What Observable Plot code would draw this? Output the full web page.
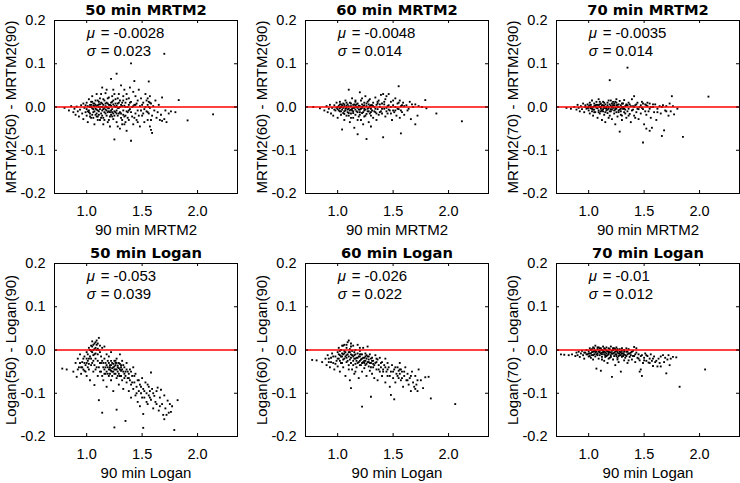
<!DOCTYPE html>
<html><head><meta charset="utf-8">
<script src="https://cdn.jsdelivr.net/npm/d3@7"></script>
<script src="https://cdn.jsdelivr.net/npm/@observablehq/plot@0.6"></script>
<style>
body{margin:0;background:#fff;overflow:hidden}
#chart{position:relative;width:740px;height:483px;overflow:hidden;background:#fff}
#chart svg{position:absolute}
</style></head><body><div id="chart"></div>
<script>
const xTicks = [1.0, 1.5, 2.0];
const yTicks = [-0.2, -0.1, 0, 0.1, 0.2];
const titles = ["50 min MRTM2", "60 min MRTM2", "70 min MRTM2", "50 min Logan", "60 min Logan", "70 min Logan"];
const xLabels = ["90 min MRTM2", "90 min MRTM2", "90 min MRTM2", "90 min Logan", "90 min Logan", "90 min Logan"];
const yLabels = ["MRTM2(50) - MRTM2(90)", "MRTM2(60) - MRTM2(90)", "MRTM2(70) - MRTM2(90)", "Logan(50) - Logan(90)", "Logan(60) - Logan(90)", "Logan(70) - Logan(90)"];
const muText = ["-0.0028", "-0.0048", "-0.0035", "-0.053", "-0.026", "-0.01"];
const sigmaText = ["0.023", "0.014", "0.014", "0.039", "0.022", "0.012"];

const mrtm2_50 = [[0.80,-0.002],[0.84,-0.008],[0.86,0.002],[0.88,-0.012],[0.89,-0.004],[0.90,-0.018],[0.91,0.001],[0.92,-0.010],[0.93,-0.022],[0.94,-0.006],[0.95,0.004],[0.96,-0.015],[0.97,-0.028],[0.97,0.008],[0.98,-0.002],[0.99,-0.012],[1.00,0.010],[1.00,-0.020],[1.01,0.002],[1.01,-0.035],[1.02,-0.008],[1.02,0.018],[1.03,-0.015],[1.03,0.005],[1.04,-0.025],[1.04,0.012],[1.05,-0.003],[1.05,0.025],[1.06,-0.012],[1.06,0.008],[1.07,-0.040],[1.07,0.002],[1.08,0.015],[1.08,-0.018],[1.09,-0.006],[1.09,0.030],[1.10,0.004],[1.10,-0.022],[1.11,0.012],[1.11,-0.010],[1.12,-0.030],[1.12,0.020],[1.13,0.000],[1.13,-0.015],[1.14,0.008],[1.14,0.045],[1.15,-0.005],[1.15,-0.025],[1.16,0.015],[1.16,-0.012],[1.17,0.002],[1.17,0.032],[1.18,-0.020],[1.18,0.010],[1.19,-0.035],[1.19,-0.002],[1.20,0.022],[1.20,-0.010],[1.21,0.005],[1.21,-0.045],[1.22,0.065],[1.22,-0.018],[1.23,0.012],[1.23,-0.005],[1.24,0.040],[1.24,-0.028],[1.25,0.002],[1.25,-0.075],[1.26,0.018],[1.26,-0.012],[1.27,0.077],[1.27,-0.035],[1.28,0.008],[1.28,-0.020],[1.29,0.030],[1.29,-0.002],[1.30,-0.050],[1.30,0.015],[1.31,0.050],[1.31,-0.015],[1.32,0.002],[1.32,-0.030],[1.33,0.025],[1.33,-0.008],[1.34,0.040],[1.34,-0.040],[1.35,0.010],[1.35,-0.020],[1.36,-0.055],[1.36,0.030],[1.37,0.000],[1.37,-0.012],[1.38,0.020],[1.38,-0.030],[1.39,0.045],[1.39,-0.005],[1.40,0.101],[1.40,-0.078],[1.40,0.012],[1.41,-0.022],[1.42,0.035],[1.42,-0.040],[1.43,0.060],[1.43,0.005],[1.44,-0.015],[1.44,0.025],[1.45,-0.030],[1.46,0.015],[1.46,-0.008],[1.47,0.040],[1.48,-0.045],[1.48,0.002],[1.49,0.020],[1.50,-0.020],[1.51,0.010],[1.52,-0.035],[1.53,0.030],[1.54,-0.010],[1.55,0.020],[1.55,-0.030],[1.55,0.005],[1.56,0.059],[1.56,-0.015],[1.56,0.012],[1.57,-0.045],[1.57,0.025],[1.57,-0.002],[1.58,-0.053],[1.58,0.008],[1.59,-0.060],[1.59,-0.020],[1.60,0.002],[1.61,-0.008],[1.62,0.015],[1.63,-0.025],[1.64,-0.012],[1.65,0.005],[1.66,-0.030],[1.67,-0.018],[1.68,0.022],[1.68,-0.032],[1.70,0.123],[1.70,-0.028],[1.71,-0.008],[1.72,-0.035],[1.74,-0.015],[1.76,-0.010],[1.80,-0.012],[1.83,0.016],[1.91,-0.031],[2.14,-0.017],
[1.00,-0.005],[1.02,-0.012],[1.04,0.000],[1.05,-0.018],[1.06,0.003],[1.07,-0.010],[1.08,0.005],[1.09,-0.015],[1.10,-0.008],[1.11,0.000],[1.12,-0.005],[1.13,0.010],[1.14,-0.020],[1.15,0.005],[1.16,-0.002],[1.17,-0.015],[1.18,0.000],[1.19,0.008],[1.20,-0.003],[1.21,-0.012],[1.22,0.003],[1.23,-0.022],[1.24,0.006],[1.25,-0.010],[1.26,0.000],[1.27,-0.008],[1.28,0.020],[1.29,-0.015],[1.30,0.000],[1.31,-0.025],[1.32,0.010],[1.33,-0.018],[1.34,0.003],[1.36,-0.010],[1.38,0.005],[1.40,-0.012],[1.42,0.002],[1.45,0.008],[1.47,-0.020],[1.50,0.005],[1.52,-0.005],
[0.99,0.004],[1.01,-0.010],[1.03,0.000],[1.03,-0.022],[1.05,0.012],[1.06,-0.025],[1.07,0.008],[1.08,-0.004],[1.09,0.002],[1.10,0.015],[1.11,-0.018],[1.12,0.006],[1.13,-0.025],[1.14,0.000],[1.15,0.018],[1.16,-0.030],[1.17,0.008],[1.18,-0.008],[1.19,0.020],[1.20,0.005],[1.21,-0.022],[1.22,0.010],[1.23,-0.012],[1.24,0.015],[1.25,-0.020],[1.26,0.008],[1.27,-0.015],[1.28,-0.002],[1.29,0.010],[1.30,-0.012],[1.31,0.005],[1.32,-0.040],[1.33,0.015],[1.34,-0.022],[1.35,0.000],[1.36,0.018],[1.37,-0.025],[1.38,-0.008],[1.39,0.010],[1.41,0.000],[1.43,-0.025],[1.44,0.005],[1.46,-0.035],[1.49,-0.008],[1.51,-0.015],[1.53,0.000],[1.54,0.015],[1.56,0.000],[1.57,0.010],[1.58,-0.030],[1.55,-0.012],[1.13,0.030],[1.18,0.040],[1.25,0.030],[1.20,-0.030],[1.15,-0.040],[1.10,-0.030],[1.28,-0.045],[1.35,-0.035],[1.23,0.025],[1.04,0.005],[1.06,-0.005],[1.09,-0.022],[1.11,0.006],[1.14,-0.008],[1.17,-0.006],[1.19,-0.012],[1.22,-0.008],[1.24,-0.015],[1.27,0.003]];

const mrtm2_60 = [[0.78,0.000],[0.84,-0.003],[0.88,-0.008],[0.90,0.002],[0.91,-0.012],[0.92,-0.004],[0.93,0.005],[0.94,-0.015],[0.95,-0.002],[0.96,-0.020],[0.97,0.004],[0.98,-0.008],[0.99,0.010],[1.00,-0.005],[1.00,-0.025],[1.01,0.003],[1.02,-0.010],[1.02,0.012],[1.03,-0.018],[1.03,0.000],[1.04,-0.052],[1.04,-0.006],[1.05,0.008],[1.05,-0.014],[1.06,0.002],[1.06,-0.030],[1.07,-0.008],[1.07,0.015],[1.08,-0.002],[1.08,-0.020],[1.09,0.006],[1.09,-0.012],[1.10,0.040],[1.10,-0.004],[1.11,-0.035],[1.11,0.010],[1.12,-0.015],[1.12,0.002],[1.13,0.020],[1.13,-0.008],[1.14,-0.025],[1.14,0.005],[1.15,-0.048],[1.15,-0.002],[1.16,0.012],[1.16,-0.018],[1.17,0.000],[1.17,-0.010],[1.18,-0.063],[1.18,0.008],[1.19,-0.022],[1.19,0.003],[1.20,0.034],[1.20,-0.006],[1.21,0.015],[1.21,-0.030],[1.22,-0.002],[1.22,0.006],[1.23,-0.040],[1.23,-0.012],[1.24,0.010],[1.24,-0.004],[1.25,0.025],[1.25,-0.020],[1.26,-0.074],[1.26,0.002],[1.27,-0.010],[1.27,0.012],[1.28,-0.035],[1.28,-0.002],[1.29,0.018],[1.29,-0.015],[1.30,0.004],[1.30,-0.045],[1.31,-0.008],[1.32,0.010],[1.32,-0.025],[1.33,0.000],[1.34,0.022],[1.34,-0.012],[1.35,-0.030],[1.35,0.005],[1.36,-0.005],[1.37,0.015],[1.37,-0.018],[1.38,0.000],[1.39,0.028],[1.39,-0.010],[1.40,0.008],[1.41,-0.070],[1.41,0.030],[1.42,-0.004],[1.43,0.018],[1.43,-0.022],[1.44,0.025],[1.45,0.002],[1.45,-0.015],[1.46,0.030],[1.47,-0.008],[1.48,0.012],[1.49,-0.030],[1.50,0.004],[1.51,-0.012],[1.52,0.020],[1.53,-0.020],[1.54,0.008],[1.55,0.048],[1.55,-0.005],[1.56,0.015],[1.56,-0.025],[1.57,-0.061],[1.57,0.002],[1.58,-0.012],[1.59,0.010],[1.60,-0.018],[1.62,0.004],[1.63,-0.008],[1.65,0.012],[1.66,-0.028],[1.68,0.000],[1.70,-0.040],[1.70,0.006],[1.72,-0.020],[1.73,0.002],[1.76,0.000],[1.79,0.016],[1.80,-0.003],[1.89,-0.015],[2.12,-0.033],
[1.00,0.000],[1.02,-0.003],[1.04,0.004],[1.06,-0.010],[1.08,0.003],[1.10,-0.014],[1.12,-0.006],[1.14,-0.010],[1.16,0.004],[1.18,-0.002],[1.20,-0.012],[1.22,0.000],[1.24,-0.008],[1.26,-0.016],[1.28,0.006],[1.30,-0.004],[1.32,0.002],[1.34,-0.004],[1.36,0.008],[1.38,-0.012],[1.40,-0.004],[1.42,0.006],[1.44,-0.002],[1.46,-0.006],[1.48,0.000],[1.50,-0.008],[1.52,0.000],[1.54,-0.004],[1.58,0.004],
[0.97,-0.006],[0.99,-0.002],[1.01,-0.008],[1.03,0.006],[1.03,-0.010],[1.05,-0.002],[1.06,0.006],[1.07,-0.004],[1.08,0.010],[1.09,-0.006],[1.10,0.002],[1.11,-0.008],[1.12,0.008],[1.13,-0.004],[1.14,-0.014],[1.15,0.006],[1.16,-0.006],[1.17,0.006],[1.18,-0.012],[1.19,-0.006],[1.20,0.002],[1.21,-0.004],[1.22,-0.014],[1.23,0.002],[1.24,0.004],[1.25,-0.006],[1.26,0.008],[1.27,-0.004],[1.28,-0.010],[1.29,0.002],[1.30,-0.012],[1.31,0.004],[1.33,-0.010],[1.35,-0.015],[1.36,0.012],[1.38,0.006],[1.40,-0.015],[1.42,0.012],[1.44,-0.010],[1.46,0.004],[1.48,-0.015],[1.50,0.015],[1.52,-0.008],[1.55,0.010],[1.57,-0.008],[1.60,0.002],[1.64,-0.004],[1.67,0.006],[1.12,-0.025],[1.18,-0.030],[1.24,-0.022],[1.30,-0.020],[1.22,0.020],[1.16,0.015],[1.28,0.015],[1.10,-0.020],[1.06,-0.016],[1.02,0.006],[1.14,-0.002],[1.20,-0.018]];

const mrtm2_70 = [[0.80,-0.002],[0.84,-0.004],[0.87,0.000],[0.89,-0.006],[0.90,0.005],[0.91,-0.002],[0.92,-0.010],[0.93,0.002],[0.94,-0.005],[0.95,0.008],[0.96,-0.012],[0.97,0.000],[0.98,-0.004],[0.99,0.006],[1.00,-0.008],[1.00,0.002],[1.01,-0.015],[1.01,0.010],[1.02,-0.003],[1.02,0.005],[1.03,-0.010],[1.03,0.015],[1.04,0.000],[1.04,-0.020],[1.05,0.008],[1.05,-0.006],[1.06,0.002],[1.06,-0.012],[1.07,0.012],[1.07,-0.002],[1.08,-0.025],[1.08,0.005],[1.09,-0.008],[1.09,0.018],[1.10,0.000],[1.10,-0.015],[1.11,0.008],[1.11,-0.004],[1.12,-0.030],[1.12,0.004],[1.13,-0.010],[1.13,0.012],[1.14,-0.002],[1.14,-0.018],[1.15,0.006],[1.15,-0.035],[1.16,0.000],[1.16,-0.008],[1.17,0.010],[1.17,-0.014],[1.18,-0.004],[1.18,0.015],[1.19,0.062],[1.19,-0.020],[1.20,0.003],[1.20,-0.010],[1.21,0.008],[1.21,-0.028],[1.22,-0.002],[1.22,0.012],[1.23,-0.015],[1.23,0.004],[1.24,-0.006],[1.24,-0.040],[1.25,0.010],[1.25,-0.012],[1.26,0.000],[1.26,-0.022],[1.27,0.006],[1.27,-0.008],[1.28,-0.057],[1.28,0.014],[1.29,-0.004],[1.29,-0.018],[1.30,0.008],[1.30,-0.030],[1.31,0.000],[1.32,-0.012],[1.32,0.016],[1.33,-0.006],[1.34,0.004],[1.34,-0.025],[1.35,0.091],[1.35,-0.010],[1.36,0.010],[1.37,-0.016],[1.38,0.002],[1.38,-0.035],[1.39,0.018],[1.40,-0.006],[1.41,0.025],[1.41,-0.020],[1.42,0.004],[1.43,-0.012],[1.44,0.010],[1.45,-0.028],[1.46,0.000],[1.47,-0.015],[1.48,0.012],[1.49,-0.082],[1.49,-0.005],[1.50,-0.040],[1.51,0.006],[1.52,-0.050],[1.52,-0.018],[1.53,0.002],[1.54,-0.010],[1.55,-0.055],[1.55,0.008],[1.56,-0.025],[1.57,-0.048],[1.58,0.000],[1.59,-0.012],[1.60,0.006],[1.61,-0.030],[1.62,-0.004],[1.64,0.002],[1.65,-0.015],[1.66,-0.067],[1.67,0.004],[1.68,-0.054],[1.69,-0.008],[1.70,0.002],[1.72,-0.020],[1.74,-0.010],[1.75,0.025],[1.76,0.002],[1.77,-0.017],[1.80,-0.004],[1.85,-0.069],[2.08,0.024],
[1.00,-0.002],[1.02,0.000],[1.04,-0.006],[1.06,0.004],[1.08,-0.003],[1.10,0.006],[1.12,-0.008],[1.14,0.002],[1.16,-0.004],[1.18,0.000],[1.20,-0.005],[1.22,0.004],[1.24,-0.002],[1.26,0.005],[1.28,-0.006],[1.30,0.000],[1.32,-0.004],[1.34,0.006],[1.36,-0.004],[1.40,0.002],[1.44,-0.004],[1.48,-0.002],[1.52,0.004],[1.56,0.000],
[0.97,0.004],[0.99,-0.002],[1.01,0.004],[1.03,-0.004],[1.05,0.002],[1.05,-0.012],[1.07,0.005],[1.09,0.004],[1.09,-0.012],[1.11,0.000],[1.11,-0.010],[1.13,0.004],[1.13,-0.005],[1.15,-0.002],[1.15,-0.012],[1.17,0.004],[1.17,-0.006],[1.19,0.006],[1.19,-0.010],[1.21,0.000],[1.21,-0.006],[1.23,-0.008],[1.23,0.008],[1.25,-0.004],[1.25,0.004],[1.27,-0.012],[1.27,0.000],[1.29,0.004],[1.29,-0.010],[1.31,-0.004],[1.31,0.008],[1.33,0.002],[1.33,-0.015],[1.35,0.004],[1.37,0.006],[1.39,-0.008],[1.41,0.000],[1.43,0.006],[1.45,-0.005],[1.47,0.004],[1.49,0.008],[1.51,-0.010],[1.53,0.010],[1.55,-0.004],[1.58,0.006],[1.62,-0.012],[1.66,0.000],[1.70,-0.010],[1.73,0.008],[1.10,0.012],[1.20,0.015],[1.25,0.018],[1.30,-0.020],[1.18,-0.025],[1.36,-0.020],[1.42,-0.025],[1.24,0.012],[1.14,0.010]];

const logan_50 = [[0.78,-0.043],[0.82,-0.045],[0.88,-0.050],[0.90,-0.030],[0.91,-0.062],[0.92,-0.020],[0.93,-0.040],[0.94,-0.010],[0.95,-0.055],[0.96,-0.028],[0.97,-0.045],[0.98,-0.015],[0.99,-0.035],[1.00,-0.060],[1.00,-0.005],[1.01,-0.025],[1.02,-0.045],[1.02,0.005],[1.03,-0.015],[1.03,-0.070],[1.04,0.010],[1.04,-0.035],[1.05,-0.005],[1.05,0.020],[1.06,-0.050],[1.06,0.000],[1.07,-0.081],[1.07,0.015],[1.08,-0.020],[1.08,0.005],[1.09,-0.040],[1.09,0.022],[1.10,-0.010],[1.10,-0.060],[1.11,0.028],[1.11,-0.116],[1.11,0.000],[1.12,-0.030],[1.12,0.010],[1.13,-0.050],[1.13,-0.015],[1.14,-0.145],[1.14,0.005],[1.15,-0.040],[1.15,-0.070],[1.16,-0.020],[1.16,0.008],[1.17,-0.055],[1.17,-0.030],[1.18,-0.010],[1.18,-0.085],[1.19,-0.040],[1.19,-0.025],[1.20,-0.060],[1.20,-0.015],[1.21,-0.035],[1.21,-0.045],[1.22,-0.005],[1.22,-0.070],[1.23,-0.030],[1.23,-0.050],[1.24,-0.040],[1.24,-0.095],[1.25,-0.179],[1.25,-0.025],[1.25,-0.055],[1.26,-0.035],[1.26,-0.045],[1.27,-0.138],[1.27,-0.020],[1.27,-0.065],[1.28,-0.040],[1.28,-0.050],[1.29,-0.030],[1.29,-0.080],[1.30,-0.045],[1.30,-0.010],[1.31,-0.060],[1.31,-0.035],[1.32,-0.070],[1.32,-0.025],[1.33,-0.050],[1.33,-0.090],[1.34,-0.040],[1.35,-0.164],[1.35,-0.060],[1.36,-0.075],[1.36,-0.030],[1.37,-0.050],[1.38,-0.095],[1.38,-0.065],[1.39,-0.045],[1.40,-0.080],[1.40,-0.110],[1.41,-0.060],[1.42,-0.090],[1.42,-0.040],[1.43,-0.075],[1.44,-0.105],[1.44,-0.055],[1.45,-0.085],[1.46,-0.120],[1.46,-0.070],[1.47,-0.095],[1.48,-0.080],[1.48,-0.130],[1.49,-0.100],[1.50,-0.065],[1.51,-0.180],[1.51,-0.148],[1.51,-0.090],[1.52,-0.110],[1.53,-0.075],[1.54,-0.100],[1.55,-0.080],[1.55,-0.125],[1.56,-0.085],[1.56,-0.105],[1.57,-0.095],[1.58,-0.052],[1.58,-0.115],[1.59,-0.090],[1.60,-0.135],[1.61,-0.106],[1.62,-0.120],[1.63,-0.095],[1.64,-0.087],[1.65,-0.140],[1.66,-0.110],[1.67,-0.092],[1.68,-0.125],[1.69,-0.150],[1.70,-0.160],[1.70,-0.105],[1.71,-0.135],[1.73,-0.117],[1.74,-0.145],[1.76,-0.143],[1.77,-0.130],[1.79,-0.185],[1.82,-0.116],
[1.04,-0.002],[1.05,0.008],[1.06,-0.012],[1.07,0.002],[1.08,-0.008],[1.09,0.012],[1.10,0.003],[1.12,-0.005],[1.20,-0.030],[1.21,-0.040],[1.22,-0.035],[1.23,-0.042],[1.24,-0.032],[1.25,-0.038],[1.26,-0.030],[1.27,-0.045],[1.28,-0.036],[1.29,-0.042],[1.30,-0.032],[1.31,-0.048],[1.22,-0.048],[1.18,-0.035],[1.16,-0.045],[1.14,-0.025],[1.34,-0.055],[1.36,-0.045],[1.38,-0.055],[1.40,-0.050],[1.00,-0.030],[0.98,-0.048],[0.96,-0.040],[1.02,-0.032],
[0.92,-0.045],[0.94,-0.030],[0.95,-0.040],[0.97,-0.020],[0.98,-0.030],[0.99,-0.050],[1.00,-0.020],[1.01,-0.040],[1.01,-0.010],[1.02,-0.020],[1.03,0.000],[1.04,-0.020],[1.05,-0.030],[1.06,0.012],[1.06,-0.025],[1.07,-0.010],[1.07,-0.035],[1.08,0.018],[1.08,-0.045],[1.09,0.000],[1.10,0.015],[1.10,-0.025],[1.11,-0.040],[1.12,-0.050],[1.13,-0.030],[1.14,-0.060],[1.15,-0.030],[1.16,-0.055],[1.17,-0.040],[1.18,-0.050],[1.19,-0.055],[1.20,-0.045],[1.21,-0.055],[1.22,-0.025],[1.23,-0.060],[1.24,-0.050],[1.25,-0.045],[1.26,-0.055],[1.26,-0.025],[1.27,-0.030],[1.28,-0.060],[1.29,-0.055],[1.30,-0.060],[1.31,-0.040],[1.32,-0.045],[1.33,-0.035],[1.34,-0.065],[1.35,-0.050],[1.37,-0.065],[1.39,-0.070],[1.41,-0.075],[1.43,-0.060],[1.45,-0.100],[1.47,-0.070],[1.49,-0.085],[1.50,-0.110],[1.52,-0.095],[1.54,-0.120],[1.57,-0.110],[1.60,-0.100],[1.63,-0.125],[1.66,-0.130],[1.72,-0.150],[1.75,-0.125]];

const logan_60 = [[0.77,-0.023],[0.81,-0.024],[0.86,-0.028],[0.89,-0.020],[0.90,-0.035],[0.91,-0.012],[0.92,-0.028],[0.93,-0.040],[0.94,-0.018],[0.95,-0.008],[0.96,-0.030],[0.97,-0.045],[0.98,-0.015],[0.99,-0.025],[1.00,-0.005],[1.00,-0.038],[1.01,0.005],[1.01,-0.020],[1.02,-0.012],[1.02,-0.050],[1.03,0.000],[1.03,-0.030],[1.04,-0.008],[1.04,0.010],[1.05,-0.022],[1.05,-0.040],[1.06,-0.002],[1.06,0.012],[1.07,-0.015],[1.07,-0.060],[1.08,0.005],[1.08,-0.028],[1.09,-0.010],[1.09,0.018],[1.10,0.022],[1.10,-0.035],[1.11,-0.005],[1.11,-0.070],[1.12,-0.088],[1.12,-0.018],[1.12,0.008],[1.13,-0.045],[1.13,-0.002],[1.14,-0.025],[1.14,0.010],[1.15,-0.012],[1.15,-0.055],[1.16,-0.032],[1.16,0.000],[1.17,-0.018],[1.17,-0.040],[1.18,-0.008],[1.18,0.012],[1.19,-0.028],[1.19,-0.065],[1.20,-0.015],[1.20,-0.002],[1.21,-0.035],[1.21,-0.022],[1.22,-0.131],[1.22,-0.010],[1.22,-0.050],[1.23,-0.028],[1.23,0.005],[1.24,-0.018],[1.24,-0.042],[1.25,-0.025],[1.25,-0.008],[1.26,-0.060],[1.26,-0.032],[1.27,-0.015],[1.27,0.008],[1.28,-0.038],[1.28,-0.022],[1.29,-0.048],[1.29,-0.010],[1.30,-0.108],[1.30,-0.030],[1.31,-0.018],[1.31,-0.055],[1.32,-0.040],[1.32,-0.025],[1.33,-0.065],[1.34,-0.030],[1.34,-0.012],[1.35,-0.045],[1.36,-0.022],[1.36,-0.070],[1.37,-0.035],[1.38,-0.050],[1.38,-0.018],[1.39,-0.040],[1.40,-0.028],[1.40,-0.060],[1.41,-0.045],[1.42,-0.035],[1.43,-0.075],[1.43,-0.020],[1.44,-0.050],[1.45,-0.030],[1.45,-0.060],[1.46,-0.040],[1.47,-0.085],[1.48,-0.104],[1.48,-0.050],[1.49,-0.035],[1.50,-0.065],[1.51,-0.114],[1.51,-0.045],[1.52,-0.075],[1.53,-0.055],[1.54,-0.040],[1.55,-0.048],[1.55,-0.065],[1.56,-0.030],[1.56,-0.055],[1.57,-0.045],[1.57,-0.070],[1.58,-0.050],[1.59,-0.085],[1.60,-0.060],[1.61,-0.040],[1.62,-0.070],[1.63,-0.055],[1.64,-0.080],[1.65,-0.065],[1.66,-0.095],[1.67,-0.050],[1.68,-0.075],[1.70,-0.090],[1.70,-0.060],[1.71,-0.080],[1.72,-0.095],[1.73,-0.045],[1.75,-0.070],[1.77,-0.088],[1.79,-0.063],[1.82,-0.062],[1.84,-0.112],[2.06,-0.125],
[1.02,-0.002],[1.04,-0.015],[1.06,-0.008],[1.08,-0.012],[1.10,-0.005],[1.12,-0.010],[1.14,-0.015],[1.16,-0.020],[1.18,-0.018],[1.20,-0.025],[1.22,-0.020],[1.24,-0.030],[1.26,-0.020],[1.28,-0.028],[1.30,-0.020],[1.32,-0.032],[1.20,-0.010],[1.25,-0.015],[1.15,-0.005],[1.11,0.002],[1.35,-0.028],
[0.92,-0.020],[0.94,-0.028],[0.96,-0.015],[0.98,-0.032],[1.00,-0.020],[1.01,-0.010],[1.02,-0.025],[1.03,-0.015],[1.04,-0.030],[1.05,-0.010],[1.06,-0.020],[1.07,-0.005],[1.08,-0.018],[1.09,-0.025],[1.10,-0.015],[1.11,-0.022],[1.12,-0.030],[1.13,-0.012],[1.14,-0.035],[1.15,-0.020],[1.16,-0.010],[1.17,-0.025],[1.18,-0.030],[1.19,-0.015],[1.20,-0.035],[1.21,-0.010],[1.22,-0.030],[1.23,-0.018],[1.24,-0.025],[1.25,-0.035],[1.26,-0.012],[1.27,-0.028],[1.28,-0.015],[1.29,-0.030],[1.30,-0.040],[1.31,-0.025],[1.33,-0.035],[1.35,-0.020],[1.37,-0.045],[1.39,-0.030],[1.41,-0.050],[1.43,-0.040],[1.45,-0.045],[1.47,-0.060],[1.50,-0.050],[1.52,-0.040],[1.54,-0.060],[1.56,-0.045],[1.58,-0.065],[1.60,-0.050],[1.63,-0.070],[1.66,-0.060],[1.69,-0.085],[1.72,-0.070],[1.10,-0.045],[1.16,-0.050],[1.05,0.010],[1.08,0.012],[1.12,0.015],[1.20,0.005]];

const logan_70 = [[0.75,-0.010],[0.78,-0.011],[0.82,-0.012],[0.85,-0.010],[0.88,-0.014],[0.89,-0.006],[0.90,-0.012],[0.91,-0.004],[0.92,-0.016],[0.93,-0.008],[0.94,-0.002],[0.95,-0.012],[0.96,-0.020],[0.97,-0.006],[0.98,0.000],[0.99,-0.010],[1.00,-0.015],[1.00,-0.003],[1.01,0.004],[1.01,-0.008],[1.02,-0.018],[1.02,0.000],[1.03,-0.005],[1.03,-0.012],[1.04,0.006],[1.04,-0.022],[1.05,-0.002],[1.05,-0.010],[1.06,0.010],[1.06,-0.015],[1.07,-0.004],[1.07,-0.043],[1.08,0.002],[1.08,-0.008],[1.09,-0.020],[1.09,0.006],[1.10,-0.002],[1.10,-0.012],[1.11,-0.048],[1.11,0.004],[1.12,-0.006],[1.12,-0.016],[1.13,0.008],[1.13,-0.002],[1.14,-0.010],[1.14,-0.025],[1.15,0.002],[1.15,-0.006],[1.16,-0.014],[1.16,0.006],[1.17,-0.003],[1.17,-0.030],[1.18,-0.010],[1.18,0.004],[1.19,-0.018],[1.19,-0.005],[1.20,0.008],[1.20,-0.012],[1.21,-0.062],[1.21,-0.002],[1.22,-0.008],[1.22,-0.022],[1.23,0.004],[1.23,-0.014],[1.24,-0.004],[1.24,-0.035],[1.25,-0.010],[1.25,0.006],[1.26,-0.018],[1.26,-0.002],[1.27,-0.008],[1.27,-0.028],[1.28,0.002],[1.28,-0.012],[1.29,-0.050],[1.29,-0.005],[1.30,-0.016],[1.30,0.004],[1.31,-0.008],[1.32,-0.024],[1.32,0.000],[1.33,-0.012],[1.34,-0.004],[1.35,-0.030],[1.35,-0.010],[1.36,0.002],[1.37,-0.016],[1.38,-0.006],[1.39,-0.022],[1.40,-0.002],[1.41,0.007],[1.41,-0.014],[1.42,-0.028],[1.43,-0.006],[1.44,-0.018],[1.45,-0.010],[1.46,-0.050],[1.46,-0.024],[1.47,-0.045],[1.48,-0.060],[1.48,-0.012],[1.49,-0.030],[1.50,-0.018],[1.51,-0.008],[1.52,-0.025],[1.53,-0.014],[1.54,-0.029],[1.55,-0.020],[1.56,-0.010],[1.57,-0.025],[1.58,-0.037],[1.59,-0.015],[1.60,-0.028],[1.62,-0.038],[1.63,-0.020],[1.65,-0.038],[1.65,-0.015],[1.67,-0.012],[1.69,-0.018],[1.70,-0.054],[1.71,-0.022],[1.72,-0.012],[1.74,-0.020],[1.76,-0.016],[1.79,-0.017],[1.82,-0.085],[2.05,-0.045],
[1.02,-0.008],[1.04,-0.004],[1.06,-0.006],[1.08,-0.012],[1.10,-0.006],[1.12,0.000],[1.14,-0.004],[1.16,-0.008],[1.18,-0.004],[1.20,-0.006],[1.22,0.000],[1.24,-0.010],[1.26,-0.006],[1.28,-0.004],[1.30,-0.008],[1.32,-0.010],[1.34,-0.014],[1.36,-0.008],[1.38,-0.012],[1.25,-0.002],[1.15,-0.012],
[0.96,-0.006],[0.98,-0.010],[1.00,-0.008],[1.01,-0.014],[1.03,0.002],[1.04,-0.012],[1.05,0.004],[1.06,-0.002],[1.07,-0.010],[1.08,0.006],[1.09,-0.004],[1.10,0.004],[1.11,-0.008],[1.12,-0.010],[1.13,-0.006],[1.14,0.004],[1.15,-0.016],[1.16,-0.002],[1.17,-0.012],[1.18,-0.007],[1.19,0.002],[1.20,-0.016],[1.21,-0.008],[1.22,0.004],[1.23,-0.006],[1.24,0.002],[1.25,-0.014],[1.26,0.002],[1.27,-0.014],[1.28,-0.008],[1.29,-0.012],[1.30,-0.002],[1.31,-0.014],[1.32,-0.004],[1.33,-0.018],[1.34,0.004],[1.35,-0.004],[1.37,-0.008],[1.39,-0.004],[1.40,-0.014],[1.42,-0.010],[1.43,0.004],[1.45,-0.020],[1.47,-0.014],[1.50,-0.024],[1.52,-0.012],[1.55,-0.030],[1.58,-0.020],[1.61,-0.025],[1.64,-0.030],[1.68,-0.028],[1.73,-0.035],[1.12,-0.022],[1.18,-0.020],[1.26,-0.022],[1.36,-0.024]];

const seriesList = [mrtm2_50, mrtm2_60, mrtm2_70, logan_50, logan_60, logan_70];
const annotX = 1.0, annotY = 0.15;

const frameLefts = [54, 305, 555.5];
const frameTops = [20, 263.3];
const FW = 183, FH = 173, ML = 54, MR = 2, MT = 20, MB = 47;
const SANS = "Liberation Sans, Arial, Helvetica, sans-serif";
const chart = document.getElementById("chart");

seriesList.forEach((data, i) => {
  const col = i % 3, row = Math.floor(i / 3);
  const svg = Plot.plot({
    width: ML + FW + MR,
    height: MT + FH + MB,
    marginLeft: ML, marginRight: MR, marginTop: MT, marginBottom: MB,
    x: {domain: [0.71, 2.36]},
    y: {domain: [-0.2, 0.2]},
    style: {fontFamily: SANS, fontSize: "14px", color: "black", background: "transparent", overflow: "visible"},
    marks: [
      Plot.dot(data, {x: d => d[0], y: d => d[1], symbol: "square", r: 1.05, fill: "black", stroke: "none"}),
      Plot.ruleY([0], {stroke: "#ff0000", strokeWidth: 1.3}),
      Plot.frame({stroke: "black", strokeWidth: 1}),
      Plot.tickX(xTicks, {x: d => d, insetTop: FH - 3, stroke: "black"}),
      Plot.tickX(xTicks, {x: d => d, insetBottom: FH - 3, stroke: "black"}),
      Plot.tickY(yTicks, {y: d => d, insetRight: FW - 3, stroke: "black"}),
      Plot.tickY(yTicks, {y: d => d, insetLeft: FW - 3, stroke: "black"}),
      Plot.axisX({ticks: xTicks, tickSize: 0, tickPadding: 12, tickFormat: d => d.toFixed(1), label: null, fontSize: 14.5}),
      Plot.axisY({ticks: yTicks, tickSize: 0, tickPadding: 9, tickFormat: d => d.toFixed(1), label: null, fontSize: 14.5}),
      Plot.text([titles[i]], {text: d => d, frameAnchor: "top", textAnchor: "middle", dy: -6, lineAnchor: "bottom", fontFamily: "DejaVu Sans", fontWeight: "bold", fontSize: 14.7}),
      Plot.text([xLabels[i]], {text: d => d, frameAnchor: "bottom", textAnchor: "middle", dy: 41.7, lineAnchor: "bottom", fontSize: 15}),
      Plot.text([yLabels[i]], {text: d => d, frameAnchor: "left", textAnchor: "middle", dx: -39, rotate: -90, lineAnchor: "bottom", fontSize: 15}),
      Plot.text([muText[i]], {x: () => annotX, y: () => annotY, text: () => "μ", textAnchor: "start", dy: -8.5, fontStyle: "italic", fontSize: 15}),
      Plot.text([muText[i]], {x: () => annotX, y: () => annotY, text: d => "= " + d, textAnchor: "start", dx: 14, dy: -8.5, fontSize: 15}),
      Plot.text([sigmaText[i]], {x: () => annotX, y: () => annotY, text: () => "σ", textAnchor: "start", dy: 9.5, fontStyle: "italic", fontSize: 15}),
      Plot.text([sigmaText[i]], {x: () => annotX, y: () => annotY, text: d => "= " + d, textAnchor: "start", dx: 14, dy: 9.5, fontSize: 15})
    ]
  });
  svg.style.left = (frameLefts[col] - ML) + "px";
  svg.style.top = (frameTops[row] - MT) + "px";
  chart.appendChild(svg);
});
</script></body></html>
